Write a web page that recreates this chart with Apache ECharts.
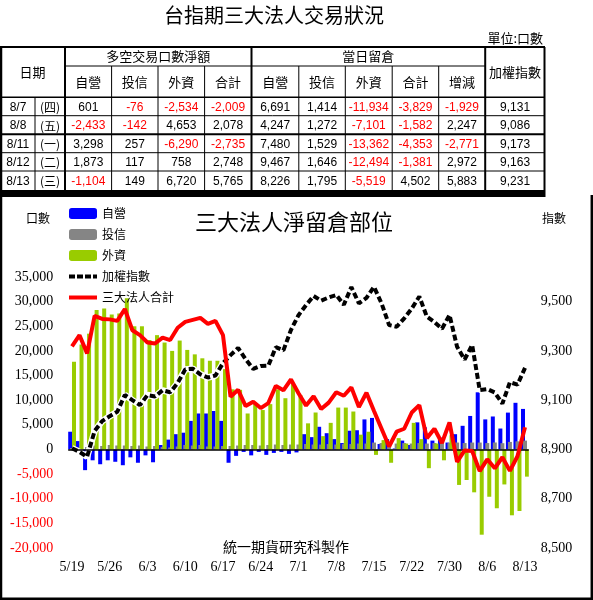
<!DOCTYPE html>
<html><head><meta charset="utf-8">
<script src="https://cdn.jsdelivr.net/npm/echarts@6/dist/echarts.min.js"></script>
<style>html,body{margin:0;padding:0;background:#fff}#c{width:593px;height:600px}</style>
</head><body><div id="c"></div>
<script>
// ---------- chart data ----------
const dates = ['5/19','5/20','5/21','5/22','5/23','5/26','5/27','5/28','5/29','5/30',
'6/3','6/4','6/5','6/6','6/9','6/10','6/11','6/12','6/13','6/16',
'6/17','6/18','6/19','6/20','6/23','6/24','6/25','6/26','6/27','6/30',
'7/1','7/2','7/3','7/4','7/7','7/8','7/9','7/10','7/11','7/14',
'7/15','7/16','7/17','7/18','7/21','7/22','7/24','7/25','7/28','7/29',
'7/30','7/31','8/1','8/4','8/5','8/6','8/7','8/8','8/11','8/12','8/13'];
const dealer = [3600,1700,-4200,-2200,-3000,-2200,-2500,-3200,-1600,-2700,
-1200,-2600,900,2000,3100,3400,5800,7300,7300,7800,
5800,-2700,-1300,-500,-1200,-500,-1100,-700,-500,-900,
-600,3100,2500,4600,3300,2100,1300,3800,3900,6100,
6400,1100,2100,200,1800,900,5500,4500,1800,2400,
1400,3100,4800,6800,11600,6100,6691,4247,7480,9467,8226];
const trust = [300,400,500,800,700,900,800,800,700,800,
600,700,500,400,600,900,800,900,600,600,
700,700,800,900,900,800,900,1000,900,1000,
1000,1100,1000,1000,1100,1000,1100,1100,1200,1200,
1400,1300,1200,1200,1300,1200,1300,1200,1300,1300,
1300,1400,1300,1400,1400,1300,1414,1272,1529,1646,1795];
const foreign = [17800,21300,23500,28300,28600,27400,27600,30700,25000,25000,
22200,23200,21700,20000,22100,20200,19300,18500,18000,18000,
16300,12200,12100,7300,9400,8000,9200,12200,10400,13400,
11000,5300,7500,2700,5400,8500,8500,7700,3000,3600,
-1100,1900,-2700,2300,1200,5400,2100,-3800,1200,-2200,
2900,-7200,-6200,-8700,-17300,-9600,-11934,-7101,-13362,-12494,-5519];
const total = [20900,23200,19500,27100,26500,26400,26100,28500,24200,23200,
21700,21500,22700,22200,24700,25900,26300,26700,25500,26100,
23200,10700,12100,8800,9700,8400,9400,12900,12000,14200,
11400,8900,10800,8200,9500,11600,10900,12600,8600,11500,
7800,4200,600,3600,4200,7500,9000,2300,4200,1300,
5500,-2500,-200,-300,-4400,-2000,-3829,-1582,-4353,-1381,4502];
const taiex = [8905,8890,8870,8975,9015,9035,9053,9121,9100,9080,
9121,9115,9140,9132,9170,9225,9228,9205,9192,9200,
9250,9283,9312,9266,9227,9239,9240,9315,9302,9385,
9445,9486,9523,9504,9517,9527,9487,9559,9493,9515,
9560,9493,9405,9398,9432,9472,9521,9439,9417,9390,
9446,9317,9265,9324,9141,9145,9131,9086,9173,9163,9231];

// ---------- table data ----------
const tableDates = ['8/7','8/8','8/11','8/12','8/13'];
const tableWeekdays = ['(四)','(五)','(一)','(二)','(三)'];
const tradeDealer = [601,-2433,3298,1873,-1104];
const tradeTrust = [-76,-142,257,117,149];
const tradeForeign = [-2534,4653,-6290,758,6720];
const tradeTotal = [-2009,2078,-2735,2748,5765];
const oiDealer = [6691,4247,7480,9467,8226];
const oiTrust = [1414,1272,1529,1646,1795];
const oiForeign = [-11934,-7101,-13362,-12494,-5519];
const oiTotal = [-3829,-1582,-4353,-1381,4502];
const oiChange = [-1929,2247,-2771,2972,5883];
const tableIndex = [9131,9086,9173,9163,9231];
const subHeaders = ['自營','投信','外資','合計','自營','投信','外資','合計','增減'];

const CJK = '"Noto Sans CJK TC"';
const fmt = v => Number(v).toLocaleString('en-US');

// ---------- table graphics ----------
const colX = [0, 65, 111.6, 158, 204.6, 251.5, 298.8, 345.3, 392.2, 438.7, 485.2, 545];
const rowY = [97.3, 115.7, 134.3, 152.7, 171, 190];
const g = [];
function line(x1,y1,x2,y2,w){ g.push({type:'line',silent:true,z:100,shape:{x1,y1,x2,y2},style:{stroke:'#000',lineWidth:w}}); }
function txt(t,x,y,font,fill,align){ g.push({type:'text',silent:true,z:101,x:x,y:y,style:{text:t,font:font,fill:fill||'#000',align:align||'center',verticalAlign:'middle'}}); }

txt('台指期三大法人交易狀況', 274, 15, '20px '+CJK);
txt('單位:口數', 543, 38, '13px '+CJK, '#000', 'right');
line(0,47,545,47,2);
line(1,47,1,600,2.5);
line(544.5,47,544.5,197,2);
g.push({type:'rect',silent:true,z:100,shape:{x:0,y:190,width:545,height:7},style:{fill:'#000'}});
line(591.8,195,591.8,600,2.5);
line(0,598.8,593,598.8,2.5);
line(colX[1],66,colX[10],66,1);
line(0,rowY[0],545,rowY[0],1.5);
line(0,rowY[1],545,rowY[1],1);
line(0,rowY[2],545,rowY[2],2);
line(0,rowY[3],545,rowY[3],1);
line(0,rowY[4],545,rowY[4],1);
line(35,rowY[0],35,190,1);
[1,5,10].forEach(i=>line(colX[i],47,colX[i],190,2));
[2,3,4,6,7,8,9].forEach(i=>line(colX[i],66,colX[i],190,1));
txt('日期', 32.5, 72, '13px '+CJK);
txt('多空交易口數淨額', (colX[1]+colX[5])/2, 56, '13px '+CJK);
txt('當日留倉', (colX[5]+colX[10])/2, 56, '13px '+CJK);
txt('加權指數', (colX[10]+colX[11])/2, 72, '13px '+CJK);
subHeaders.forEach((h,i)=>txt(h,(colX[i+1]+colX[i+2])/2, 82, '13px '+CJK));
const rowCols = [tradeDealer,tradeTrust,tradeForeign,tradeTotal,oiDealer,oiTrust,oiForeign,oiTotal,oiChange];
tableDates.forEach((d,r)=>{
  const cy = (rowY[r]+rowY[r+1])/2 + 1;
  txt(d, 18, cy, '12px "Liberation Sans"');
  txt(tableWeekdays[r], 50, cy, '12px '+CJK);
  rowCols.forEach((arr,c)=>{
    const v = arr[r];
    txt(fmt(v),(colX[c+1]+colX[c+2])/2, cy, '12px "Liberation Sans"', v<0?'#ff0000':'#000');
  });
  txt(fmt(tableIndex[r]),(colX[10]+colX[11])/2, cy, '12px "Liberation Sans"');
});
txt('三大法人淨留倉部位', 294, 222, '22px '+CJK);
txt('口數', 38, 218, '12px '+CJK);
txt('指數', 554, 218, '12px '+CJK);
txt('統一期貨研究科製作', 286, 547, '14px '+CJK);

const serif = 'Liberation Serif';
const dashIcon = 'path://M0,0H6V4H0Z M8,0H14V4H8Z M16,0H22V4H16Z M24,0H28V4H24Z';
const solidIcon = 'path://M0,0H28V4H0Z';
const chart = echarts.init(document.getElementById('c'), null, {renderer:'canvas'});
chart.setOption({
  animation:false,
  backgroundColor:'#fff',
  graphic:g,
  legend:{
    data:['自營','投信','外資',{name:'加權指數',icon:dashIcon},{name:'三大法人合計',icon:solidIcon}],
    orient:'vertical', left:64, top:202.5,
    itemWidth:28, itemHeight:11, itemGap:9,
    textStyle:{fontFamily:'Noto Sans CJK TC', fontSize:12, color:'#000'}
  },
  grid:{left:68.2, right:64.2, top:277, bottom:52},
  xAxis:{type:'category', data:dates, boundaryGap:true,
    axisLine:{show:false}, axisTick:{show:false}, splitLine:{show:false},
    axisLabel:{interval:4, margin:12, fontFamily:serif, fontSize:14, color:'#000'}},
  yAxis:[
    {type:'value', min:-20000, max:35000, interval:5000, splitLine:{show:false},
     axisLine:{show:false}, axisTick:{show:false},
     axisLabel:{margin:15, fontFamily:serif, fontSize:14, formatter:v=>fmt(v),
       color:v=>(v<0?'#ff0000':'#000')}},
    {type:'value', position:'right', min:8500, max:9600, interval:200, splitLine:{show:false},
     axisLine:{show:false}, axisTick:{show:false},
     axisLabel:{margin:12, fontFamily:serif, fontSize:14, color:'#000', showMaxLabel:false, formatter:v=>fmt(v)}}
  ],
  series:[
    {name:'自營', type:'bar', data:dealer, barWidth:4, barGap:'-50%', itemStyle:{color:'#0000ff'}},
    {name:'投信', type:'bar', data:trust, barWidth:4, barGap:'-50%', itemStyle:{color:'#858585'}},
    {name:'外資', type:'bar', data:foreign, barWidth:4, barGap:'-50%', itemStyle:{color:'#99cc00'},
     markLine:{silent:true, symbol:['none','none'], label:{show:false}, animation:false,
       lineStyle:{color:'#000', width:1.5, type:'solid'}, data:[{yAxis:0}]}},
    {name:'halo', type:'line', yAxisIndex:1, data:taiex, symbol:'none', silent:true,
     lineStyle:{color:'#fff', width:6.5}, z:3},
    {name:'加權指數', type:'line', yAxisIndex:1, data:taiex, symbol:'none',
     lineStyle:{color:'#000', width:4, type:[6,3]}, itemStyle:{color:'#000'}, z:4},
    {name:'三大法人合計', type:'line', yAxisIndex:0, data:total, symbol:'none',
     lineStyle:{color:'#ff0000', width:4}, itemStyle:{color:'#ff0000'}, z:5}
  ]
});
</script></body></html>
